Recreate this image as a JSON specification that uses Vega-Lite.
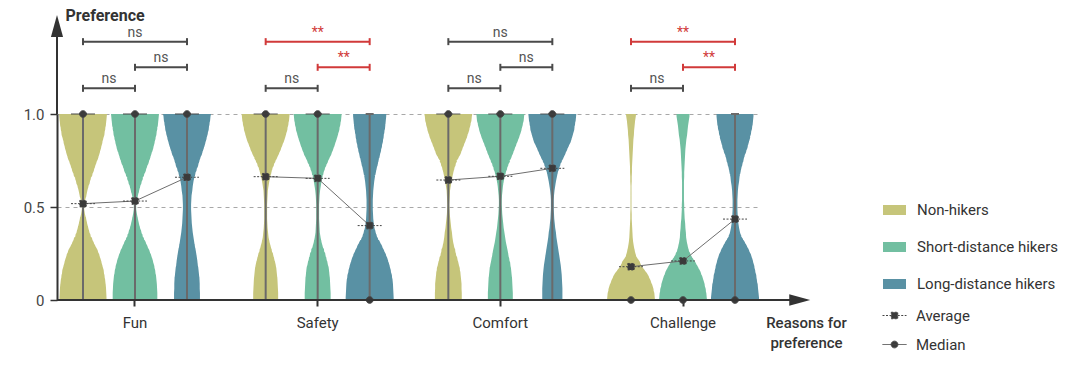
{
  "$schema": "https://vega.github.io/schema/vega-lite/v6.json",
  "width": 704,
  "height": 186,
  "autosize": "none",
  "padding": {"left": 57, "top": 114, "right": 319, "bottom": 74},
  "background": "white",
  "config": {
    "font": "Roboto",
    "view": {"stroke": null},
    "legend": {"padding": 0},
    "axisY": {
      "grid": true, "gridDash": [4, 4], "gridColor": "#a8a8a8", "gridWidth": 1,
      "domainColor": "#333", "domainWidth": 2,
      "tickColor": "#333", "tickWidth": 1.5, "tickSize": 7,
      "labelFontSize": 15, "labelColor": "#444", "labelPadding": 6,
      "titleAngle": 0, "titleAlign": "left", "titleBaseline": "middle",
      "titleX": 8, "titleY": -99, "titleFontSize": 16, "titleFontWeight": "bold", "titleColor": "#333"
    }
  },
  "datasets": {
    "violins": [
      {"reason": "Fun", "group": "Non-hikers", "level": [0,0.0125,0.0375,0.0625,0.0875,0.1125,0.1375,0.1625,0.1875,0.2125,0.2375,0.2625,0.2875,0.3125,0.3375,0.3625,0.3875,0.4125,0.4375,0.4625,0.4875,0.5125,0.5375,0.5625,0.5875,0.6125,0.6375,0.6625,0.6875,0.7125,0.7375,0.7625,0.7875,0.8125,0.8375,0.8625,0.8875,0.9125,0.9375,0.9625,0.9875,1],
       "d": [0.98,0.98,0.97,0.96,0.94,0.91,0.88,0.83,0.78,0.72,0.65,0.56,0.48,0.41,0.33,0.27,0.22,0.17,0.13,0.08,0.05,0.05,0.09,0.14,0.18,0.23,0.29,0.34,0.41,0.47,0.53,0.59,0.66,0.72,0.77,0.82,0.86,0.91,0.94,0.97,0.99,1.0]},
      {"reason": "Fun", "group": "Short-distance hikers", "level": [0,0.0125,0.0375,0.0625,0.0875,0.1125,0.1375,0.1625,0.1875,0.2125,0.2375,0.2625,0.2875,0.3125,0.3375,0.3625,0.3875,0.4125,0.4375,0.4625,0.4875,0.5125,0.5375,0.5625,0.5875,0.6125,0.6375,0.6625,0.6875,0.7125,0.7375,0.7625,0.7875,0.8125,0.8375,0.8625,0.8875,0.9125,0.9375,0.9625,0.9875,1],
       "d": [0.93,0.93,0.93,0.92,0.91,0.89,0.86,0.82,0.77,0.71,0.64,0.56,0.48,0.40,0.33,0.27,0.21,0.16,0.12,0.08,0.05,0.05,0.08,0.12,0.17,0.22,0.28,0.34,0.40,0.47,0.53,0.60,0.66,0.72,0.78,0.83,0.87,0.91,0.94,0.97,0.99,1.0]},
      {"reason": "Fun", "group": "Long-distance hikers", "level": [0,0.0125,0.0375,0.0625,0.0875,0.1125,0.1375,0.1625,0.1875,0.2125,0.2375,0.2625,0.2875,0.3125,0.3375,0.3625,0.3875,0.4125,0.4375,0.4625,0.4875,0.5125,0.5375,0.5625,0.5875,0.6125,0.6375,0.6625,0.6875,0.7125,0.7375,0.7625,0.7875,0.8125,0.8375,0.8625,0.8875,0.9125,0.9375,0.9625,0.9875,1],
       "d": [0.54,0.54,0.54,0.53,0.53,0.52,0.50,0.48,0.45,0.43,0.40,0.37,0.33,0.30,0.27,0.24,0.22,0.20,0.19,0.18,0.17,0.17,0.18,0.19,0.22,0.24,0.27,0.31,0.36,0.42,0.48,0.53,0.59,0.66,0.72,0.78,0.83,0.88,0.92,0.95,0.98,1.0]},
      {"reason": "Safety", "group": "Non-hikers", "level": [0,0.0125,0.0375,0.0625,0.0875,0.1125,0.1375,0.1625,0.1875,0.2125,0.2375,0.2625,0.2875,0.3125,0.3375,0.3625,0.3875,0.4125,0.4375,0.4625,0.4875,0.5125,0.5375,0.5625,0.5875,0.6125,0.6375,0.6625,0.6875,0.7125,0.7375,0.7625,0.7875,0.8125,0.8375,0.8625,0.8875,0.9125,0.9375,0.9625,0.9875,1],
       "d": [0.52,0.52,0.52,0.51,0.50,0.49,0.47,0.45,0.42,0.37,0.32,0.26,0.21,0.16,0.12,0.10,0.08,0.07,0.06,0.06,0.06,0.06,0.07,0.08,0.09,0.12,0.15,0.19,0.24,0.29,0.36,0.43,0.51,0.59,0.67,0.74,0.81,0.87,0.92,0.96,0.99,1.0]},
      {"reason": "Safety", "group": "Short-distance hikers", "level": [0,0.0125,0.0375,0.0625,0.0875,0.1125,0.1375,0.1625,0.1875,0.2125,0.2375,0.2625,0.2875,0.3125,0.3375,0.3625,0.3875,0.4125,0.4375,0.4625,0.4875,0.5125,0.5375,0.5625,0.5875,0.6125,0.6375,0.6625,0.6875,0.7125,0.7375,0.7625,0.7875,0.8125,0.8375,0.8625,0.8875,0.9125,0.9375,0.9625,0.9875,1],
       "d": [0.54,0.54,0.54,0.53,0.52,0.51,0.49,0.47,0.43,0.38,0.33,0.27,0.21,0.16,0.12,0.09,0.08,0.07,0.06,0.06,0.06,0.06,0.07,0.08,0.10,0.13,0.16,0.20,0.25,0.31,0.38,0.45,0.53,0.61,0.68,0.75,0.81,0.87,0.92,0.96,0.99,1.0]},
      {"reason": "Safety", "group": "Long-distance hikers", "level": [0,0.0125,0.0375,0.0625,0.0875,0.1125,0.1375,0.1625,0.1875,0.2125,0.2375,0.2625,0.2875,0.3125,0.3375,0.3625,0.3875,0.4125,0.4375,0.4625,0.4875,0.5125,0.5375,0.5625,0.5875,0.6125,0.6375,0.6625,0.6875,0.7125,0.7375,0.7625,0.7875,0.8125,0.8375,0.8625,0.8875,0.9125,0.9375,0.9625,0.9875,1],
       "d": [1.0,1.0,0.99,0.98,0.97,0.94,0.90,0.85,0.79,0.72,0.64,0.56,0.47,0.38,0.31,0.25,0.20,0.17,0.15,0.14,0.13,0.13,0.13,0.14,0.15,0.17,0.19,0.22,0.26,0.30,0.35,0.39,0.44,0.48,0.52,0.56,0.59,0.62,0.65,0.67,0.69,0.69]},
      {"reason": "Comfort", "group": "Non-hikers", "level": [0,0.0125,0.0375,0.0625,0.0875,0.1125,0.1375,0.1625,0.1875,0.2125,0.2375,0.2625,0.2875,0.3125,0.3375,0.3625,0.3875,0.4125,0.4375,0.4625,0.4875,0.5125,0.5375,0.5625,0.5875,0.6125,0.6375,0.6625,0.6875,0.7125,0.7375,0.7625,0.7875,0.8125,0.8375,0.8625,0.8875,0.9125,0.9375,0.9625,0.9875,1],
       "d": [0.56,0.56,0.56,0.55,0.55,0.53,0.51,0.48,0.44,0.39,0.33,0.29,0.24,0.20,0.17,0.15,0.12,0.10,0.08,0.06,0.05,0.04,0.05,0.06,0.07,0.10,0.13,0.17,0.21,0.26,0.32,0.38,0.46,0.55,0.62,0.69,0.76,0.83,0.89,0.94,0.98,1.0]},
      {"reason": "Comfort", "group": "Short-distance hikers", "level": [0,0.0125,0.0375,0.0625,0.0875,0.1125,0.1375,0.1625,0.1875,0.2125,0.2375,0.2625,0.2875,0.3125,0.3375,0.3625,0.3875,0.4125,0.4375,0.4625,0.4875,0.5125,0.5375,0.5625,0.5875,0.6125,0.6375,0.6625,0.6875,0.7125,0.7375,0.7625,0.7875,0.8125,0.8375,0.8625,0.8875,0.9125,0.9375,0.9625,0.9875,1],
       "d": [0.52,0.52,0.52,0.51,0.50,0.49,0.47,0.45,0.42,0.38,0.34,0.31,0.27,0.23,0.20,0.17,0.14,0.12,0.10,0.08,0.07,0.06,0.06,0.07,0.09,0.11,0.14,0.18,0.23,0.29,0.35,0.42,0.49,0.56,0.63,0.70,0.77,0.84,0.90,0.95,0.99,1.0]},
      {"reason": "Comfort", "group": "Long-distance hikers", "level": [0,0.0125,0.0375,0.0625,0.0875,0.1125,0.1375,0.1625,0.1875,0.2125,0.2375,0.2625,0.2875,0.3125,0.3375,0.3625,0.3875,0.4125,0.4375,0.4625,0.4875,0.5125,0.5375,0.5625,0.5875,0.6125,0.6375,0.6625,0.6875,0.7125,0.7375,0.7625,0.7875,0.8125,0.8375,0.8625,0.8875,0.9125,0.9375,0.9625,0.9875,1],
       "d": [0.42,0.42,0.42,0.42,0.41,0.40,0.39,0.37,0.35,0.32,0.29,0.26,0.23,0.20,0.17,0.15,0.12,0.10,0.08,0.07,0.06,0.06,0.06,0.07,0.09,0.12,0.15,0.19,0.23,0.29,0.35,0.42,0.50,0.58,0.66,0.74,0.82,0.88,0.93,0.96,0.99,1.0]},
      {"reason": "Challenge", "group": "Non-hikers", "level": [0,0.0125,0.0375,0.0625,0.0875,0.1125,0.1375,0.1625,0.1875,0.2125,0.2375,0.2625,0.2875,0.3125,0.3375,0.3625,0.3875,0.4125,0.4375,0.4625,0.4875,0.5125,0.5375,0.5625,0.5875,0.6125,0.6375,0.6625,0.6875,0.7125,0.7375,0.7625,0.7875,0.8125,0.8375,0.8625,0.8875,0.9125,0.9375,0.9625,0.9875,1],
       "d": [1.0,0.99,0.95,0.88,0.80,0.68,0.56,0.47,0.39,0.28,0.21,0.16,0.12,0.09,0.07,0.06,0.05,0.04,0.03,0.03,0.02,0.02,0.02,0.02,0.02,0.02,0.03,0.03,0.04,0.04,0.05,0.06,0.07,0.08,0.09,0.10,0.12,0.13,0.15,0.17,0.20,0.21]},
      {"reason": "Challenge", "group": "Short-distance hikers", "level": [0,0.0125,0.0375,0.0625,0.0875,0.1125,0.1375,0.1625,0.1875,0.2125,0.2375,0.2625,0.2875,0.3125,0.3375,0.3625,0.3875,0.4125,0.4375,0.4625,0.4875,0.5125,0.5375,0.5625,0.5875,0.6125,0.6375,0.6625,0.6875,0.7125,0.7375,0.7625,0.7875,0.8125,0.8375,0.8625,0.8875,0.9125,0.9375,0.9625,0.9875,1],
       "d": [1.0,0.99,0.96,0.92,0.86,0.79,0.70,0.60,0.50,0.40,0.32,0.25,0.20,0.16,0.13,0.12,0.10,0.09,0.07,0.06,0.05,0.05,0.04,0.04,0.04,0.04,0.04,0.05,0.05,0.06,0.07,0.08,0.09,0.10,0.12,0.14,0.17,0.19,0.21,0.24,0.27,0.27]},
      {"reason": "Challenge", "group": "Long-distance hikers", "level": [0,0.0125,0.0375,0.0625,0.0875,0.1125,0.1375,0.1625,0.1875,0.2125,0.2375,0.2625,0.2875,0.3125,0.3375,0.3625,0.3875,0.4125,0.4375,0.4625,0.4875,0.5125,0.5375,0.5625,0.5875,0.6125,0.6375,0.6625,0.6875,0.7125,0.7375,0.7625,0.7875,0.8125,0.8375,0.8625,0.8875,0.9125,0.9375,0.9625,0.9875,1],
       "d": [1.0,1.0,0.98,0.96,0.93,0.90,0.86,0.82,0.77,0.71,0.63,0.54,0.45,0.35,0.27,0.21,0.17,0.14,0.12,0.11,0.10,0.10,0.10,0.11,0.12,0.14,0.17,0.19,0.23,0.27,0.32,0.37,0.42,0.48,0.54,0.59,0.64,0.68,0.72,0.75,0.77,0.77]}
    ],
    "stats": [
      {"reason": "Fun", "group": "Non-hikers", "Average": 0.518, "Median": 1, "q1": 0, "q3": 1},
      {"reason": "Fun", "group": "Short-distance hikers", "Average": 0.532, "Median": 1, "q1": 0, "q3": 1},
      {"reason": "Fun", "group": "Long-distance hikers", "Average": 0.66, "Median": 1, "q1": 0, "q3": 1},
      {"reason": "Safety", "group": "Non-hikers", "Average": 0.663, "Median": 1, "q1": 0, "q3": 1},
      {"reason": "Safety", "group": "Short-distance hikers", "Average": 0.654, "Median": 1, "q1": 0, "q3": 1},
      {"reason": "Safety", "group": "Long-distance hikers", "Average": 0.40, "Median": 0, "q1": 0, "q3": 1},
      {"reason": "Comfort", "group": "Non-hikers", "Average": 0.645, "Median": 1, "q1": 0, "q3": 1},
      {"reason": "Comfort", "group": "Short-distance hikers", "Average": 0.665, "Median": 1, "q1": 0, "q3": 1},
      {"reason": "Comfort", "group": "Long-distance hikers", "Average": 0.708, "Median": 1, "q1": 0, "q3": 1},
      {"reason": "Challenge", "group": "Non-hikers", "Average": 0.179, "Median": 0, "q1": 0, "q3": 0},
      {"reason": "Challenge", "group": "Short-distance hikers", "Average": 0.21, "Median": 0, "q1": 0, "q3": 0},
      {"reason": "Challenge", "group": "Long-distance hikers", "Average": 0.435, "Median": 0, "q1": 0, "q3": 1}
    ],
    "brackets": [
      {"reason": "Fun", "pair": "top", "a": "Non-hikers", "b": "Long-distance hikers", "mid": "Short-distance hikers", "label": "ns"},
      {"reason": "Fun", "pair": "middle", "a": "Short-distance hikers", "b": "Long-distance hikers", "mid": "SD–LD", "label": "ns"},
      {"reason": "Fun", "pair": "low", "a": "Non-hikers", "b": "Short-distance hikers", "mid": "NH–SD", "label": "ns"},
      {"reason": "Safety", "pair": "top", "a": "Non-hikers", "b": "Long-distance hikers", "mid": "Short-distance hikers", "label": "**"},
      {"reason": "Safety", "pair": "middle", "a": "Short-distance hikers", "b": "Long-distance hikers", "mid": "SD–LD", "label": "**"},
      {"reason": "Safety", "pair": "low", "a": "Non-hikers", "b": "Short-distance hikers", "mid": "NH–SD", "label": "ns"},
      {"reason": "Comfort", "pair": "top", "a": "Non-hikers", "b": "Long-distance hikers", "mid": "Short-distance hikers", "label": "ns"},
      {"reason": "Comfort", "pair": "middle", "a": "Short-distance hikers", "b": "Long-distance hikers", "mid": "SD–LD", "label": "ns"},
      {"reason": "Comfort", "pair": "low", "a": "Non-hikers", "b": "Short-distance hikers", "mid": "NH–SD", "label": "ns"},
      {"reason": "Challenge", "pair": "top", "a": "Non-hikers", "b": "Long-distance hikers", "mid": "Short-distance hikers", "label": "**"},
      {"reason": "Challenge", "pair": "middle", "a": "Short-distance hikers", "b": "Long-distance hikers", "mid": "SD–LD", "label": "**"},
      {"reason": "Challenge", "pair": "low", "a": "Non-hikers", "b": "Short-distance hikers", "mid": "NH–SD", "label": "ns"}
    ]
  },
  "layer": [
    {
      "encoding": {
        "x": {
          "field": "reason", "type": "nominal",
          "scale": {"domain": ["Fun", "Safety", "Comfort", "Challenge"], "paddingInner": 0.146, "paddingOuter": 0},
          "axis": {
            "domain": false, "ticks": true, "tickSize": 6, "tickWidth": 2, "tickColor": "#333",
            "labelFontSize": 15, "labelColor": "#333", "labelPadding": 9, "labelAngle": 0,
            "title": ["Reasons for", "preference"], "titleX": 749, "titleY": 15,
            "titleAlign": "center", "titleBaseline": "top", "titleFontSize": 15,
            "titleFontWeight": 500, "titleColor": "#333", "titleLineHeight": 20
          }
        }
      },
      "layer": [
        {
          "data": {"name": "violins"},
          "transform": [{"flatten": ["level", "d"]}],
          "mark": {"type": "trail", "clip": true, "opacity": 1},
          "encoding": {
            "xOffset": {"field": "group", "type": "nominal", "scale": {"domain": ["Non-hikers", "NH–SD", "Short-distance hikers", "SD–LD", "Long-distance hikers"], "paddingInner": 0, "paddingOuter": 0.5}},
            "y": {
              "field": "level", "type": "quantitative", "title": "Preference",
              "scale": {"domain": [0, 1], "nice": false, "zero": true},
              "axis": {
                "title": "Preference",
                "values": [0, 0.5, 1],
                "labelExpr": "datum.value == 0 ? '0' : format(datum.value, '.1f')"
              }
            },
            "size": {"field": "d", "type": "quantitative", "scale": {"domain": [0, 1], "range": [0, 48], "zero": true}, "legend": null},
            "color": {
              "field": "group", "type": "nominal",
              "scale": {"domain": ["Non-hikers", "Short-distance hikers", "Long-distance hikers"], "range": ["#c6c57a", "#72bfa1", "#5991a4"]},
              "legend": {
                "orient": "none", "legendX": 821, "legendY": 79.5, "title": null,
                "symbolType": "stroke", "symbolSize": 529, "symbolStrokeWidth": 10, "symbolOpacity": 1,
                "labelFontSize": 15, "labelColor": "#333", "labelOffset": 6, "rowPadding": -11
              }
            },
            "detail": {"field": "reason"},
            "order": {"field": "level"}
          }
        },
        {
          "data": {"name": "stats"},
          "mark": {"type": "rule", "color": "#6a6a6a", "strokeWidth": 2},
          "encoding": {
            "xOffset": {"field": "group", "type": "nominal", "scale": {"domain": ["Non-hikers", "NH–SD", "Short-distance hikers", "SD–LD", "Long-distance hikers"], "paddingInner": 0, "paddingOuter": 0.5}},
            "y": {"field": "q1", "type": "quantitative", "title": "Preference"},
            "y2": {"field": "q3"}
          }
        },
        {
          "data": {"name": "stats"},
          "transform": [{"filter": "datum.q3 > datum.q1"}, {"fold": ["q1", "q3"], "as": ["qk", "qv"]}],
          "mark": {"type": "tick", "color": "#6a6a6a", "size": 8, "thickness": 2, "opacity": 1},
          "encoding": {
            "xOffset": {"field": "group", "type": "nominal", "scale": {"domain": ["Non-hikers", "NH–SD", "Short-distance hikers", "SD–LD", "Long-distance hikers"], "paddingInner": 0, "paddingOuter": 0.5}},
            "y": {"field": "qv", "type": "quantitative", "title": "Preference"}
          }
        },
        {
          "data": {"name": "stats"},
          "mark": {"type": "line", "color": "#6e6e6e", "strokeWidth": 1},
          "encoding": {
            "xOffset": {"field": "group", "type": "nominal", "scale": {"domain": ["Non-hikers", "NH–SD", "Short-distance hikers", "SD–LD", "Long-distance hikers"], "paddingInner": 0, "paddingOuter": 0.5}},
            "y": {"field": "Average", "type": "quantitative", "title": "Preference"},
            "detail": {"field": "reason"},
            "order": {"field": "Average"}
          }
        },
        {
          "data": {"name": "stats"},
          "transform": [{"fold": ["Average", "Median"], "as": ["stat", "val"]}],
          "mark": {"type": "point", "filled": false, "size": 576, "fill": "#3a3a3a", "stroke": "#444", "color": "#444", "strokeWidth": 1, "opacity": 1, "fillOpacity": 1, "strokeOpacity": 1},
          "encoding": {
            "xOffset": {"field": "group", "type": "nominal", "scale": {"domain": ["Non-hikers", "NH–SD", "Short-distance hikers", "SD–LD", "Long-distance hikers"], "paddingInner": 0, "paddingOuter": 0.5}},
            "y": {"field": "val", "type": "quantitative", "title": "Preference"},
            "shape": {
              "field": "stat", "type": "nominal",
              "scale": {"domain": ["Average", "Median"], "range": ["M-1,0H-0.27M0.27,0H1M-0.27,-0.27H0.27V0.27H-0.27Z", "M-1,0H1M0.28,0A0.28,0.28,0,1,1,-0.28,0A0.28,0.28,0,1,1,0.28,0Z"]},
              "legend": {
                "orient": "none", "legendX": 825, "legendY": 189, "title": null,
                "symbolSize": 576, "symbolStrokeWidth": 1, "symbolOpacity": 1,
                "labelFontSize": 15, "labelColor": "#333", "labelOffset": 9, "rowPadding": 8
              }
            },
            "strokeDash": {
              "field": "stat", "type": "nominal",
              "scale": {"domain": ["Average", "Median"], "range": [[2, 1.5], [1, 0]]},
              "legend": {
                "orient": "none", "legendX": 825, "legendY": 189, "title": null,
                "symbolSize": 576, "symbolStrokeWidth": 1, "symbolOpacity": 1,
                "labelFontSize": 15, "labelColor": "#333", "labelOffset": 9, "rowPadding": 8
              }
            }
          }
        },
        {
          "data": {"name": "brackets"},
          "transform": [{"filter": "datum.pair == 'top'"}],
          "encoding": {"y": {"datum": 1.389, "type": "quantitative", "title": "Preference"}},
          "layer": [
            {
              "transform": [{"fold": ["a", "b"], "as": ["end", "grp"]}],
              "mark": {"type": "line", "strokeWidth": 2},
              "encoding": {
                "xOffset": {"field": "grp", "type": "nominal", "scale": {"domain": ["Non-hikers", "NH–SD", "Short-distance hikers", "SD–LD", "Long-distance hikers"], "paddingInner": 0, "paddingOuter": 0.5}},
                "detail": {"field": "reason"},
                "color": {"condition": {"test": "datum.label == '**'", "value": "#d13a3a"}, "value": "#4a4a4a"}
              }
            },
            {
              "transform": [{"fold": ["a", "b"], "as": ["end", "grp"]}],
              "mark": {"type": "point", "shape": "M0,-1L0,1", "size": 49, "strokeWidth": 2, "filled": false, "opacity": 1},
              "encoding": {
                "xOffset": {"field": "grp", "type": "nominal", "scale": {"domain": ["Non-hikers", "NH–SD", "Short-distance hikers", "SD–LD", "Long-distance hikers"], "paddingInner": 0, "paddingOuter": 0.5}},
                "color": {"condition": {"test": "datum.label == '**'", "value": "#d13a3a"}, "value": "#4a4a4a"}
              }
            },
            {
              "mark": {"type": "text", "baseline": "alphabetic", "dy": -5, "fontSize": 14},
              "encoding": {
                "xOffset": {"field": "mid", "type": "nominal", "scale": {"domain": ["Non-hikers", "NH–SD", "Short-distance hikers", "SD–LD", "Long-distance hikers"], "paddingInner": 0, "paddingOuter": 0.5}},
                "text": {"field": "label"},
                "color": {"condition": {"test": "datum.label == '**'", "value": "#d13a3a"}, "value": "#555"}
              }
            }
          ]
        },
        {
          "data": {"name": "brackets"},
          "transform": [{"filter": "datum.pair == 'middle'"}],
          "encoding": {"y": {"datum": 1.251, "type": "quantitative", "title": "Preference"}},
          "layer": [
            {
              "transform": [{"fold": ["a", "b"], "as": ["end", "grp"]}],
              "mark": {"type": "line", "strokeWidth": 2},
              "encoding": {
                "xOffset": {"field": "grp", "type": "nominal", "scale": {"domain": ["Non-hikers", "NH–SD", "Short-distance hikers", "SD–LD", "Long-distance hikers"], "paddingInner": 0, "paddingOuter": 0.5}},
                "detail": {"field": "reason"},
                "color": {"condition": {"test": "datum.label == '**'", "value": "#d13a3a"}, "value": "#4a4a4a"}
              }
            },
            {
              "transform": [{"fold": ["a", "b"], "as": ["end", "grp"]}],
              "mark": {"type": "point", "shape": "M0,-1L0,1", "size": 49, "strokeWidth": 2, "filled": false, "opacity": 1},
              "encoding": {
                "xOffset": {"field": "grp", "type": "nominal", "scale": {"domain": ["Non-hikers", "NH–SD", "Short-distance hikers", "SD–LD", "Long-distance hikers"], "paddingInner": 0, "paddingOuter": 0.5}},
                "color": {"condition": {"test": "datum.label == '**'", "value": "#d13a3a"}, "value": "#4a4a4a"}
              }
            },
            {
              "mark": {"type": "text", "baseline": "alphabetic", "dy": -5, "fontSize": 14},
              "encoding": {
                "xOffset": {"field": "mid", "type": "nominal", "scale": {"domain": ["Non-hikers", "NH–SD", "Short-distance hikers", "SD–LD", "Long-distance hikers"], "paddingInner": 0, "paddingOuter": 0.5}},
                "text": {"field": "label"},
                "color": {"condition": {"test": "datum.label == '**'", "value": "#d13a3a"}, "value": "#555"}
              }
            }
          ]
        },
        {
          "data": {"name": "brackets"},
          "transform": [{"filter": "datum.pair == 'low'"}],
          "encoding": {"y": {"datum": 1.138, "type": "quantitative", "title": "Preference"}},
          "layer": [
            {
              "transform": [{"fold": ["a", "b"], "as": ["end", "grp"]}],
              "mark": {"type": "line", "strokeWidth": 2},
              "encoding": {
                "xOffset": {"field": "grp", "type": "nominal", "scale": {"domain": ["Non-hikers", "NH–SD", "Short-distance hikers", "SD–LD", "Long-distance hikers"], "paddingInner": 0, "paddingOuter": 0.5}},
                "detail": {"field": "reason"},
                "color": {"condition": {"test": "datum.label == '**'", "value": "#d13a3a"}, "value": "#4a4a4a"}
              }
            },
            {
              "transform": [{"fold": ["a", "b"], "as": ["end", "grp"]}],
              "mark": {"type": "point", "shape": "M0,-1L0,1", "size": 49, "strokeWidth": 2, "filled": false, "opacity": 1},
              "encoding": {
                "xOffset": {"field": "grp", "type": "nominal", "scale": {"domain": ["Non-hikers", "NH–SD", "Short-distance hikers", "SD–LD", "Long-distance hikers"], "paddingInner": 0, "paddingOuter": 0.5}},
                "color": {"condition": {"test": "datum.label == '**'", "value": "#d13a3a"}, "value": "#4a4a4a"}
              }
            },
            {
              "mark": {"type": "text", "baseline": "alphabetic", "dy": -5, "fontSize": 14},
              "encoding": {
                "xOffset": {"field": "mid", "type": "nominal", "scale": {"domain": ["Non-hikers", "NH–SD", "Short-distance hikers", "SD–LD", "Long-distance hikers"], "paddingInner": 0, "paddingOuter": 0.5}},
                "text": {"field": "label"},
                "color": {"condition": {"test": "datum.label == '**'", "value": "#d13a3a"}, "value": "#555"}
              }
            }
          ]
        }
      ]
    },
    {
      "data": {"values": [{}]},
      "layer": [
        {
          "mark": {"type": "rule", "color": "#333", "strokeWidth": 2},
          "encoding": {
            "x": {"datum": 0, "type": "quantitative", "scale": {"domain": [0, 1]}, "axis": null},
            "x2": {"datum": 1.05},
            "y": {"datum": 0, "type": "quantitative", "title": "Preference"}
          }
        },
        {
          "mark": {"type": "rule", "color": "#333", "strokeWidth": 2},
          "encoding": {
            "x": {"datum": 0, "type": "quantitative", "scale": {"domain": [0, 1]}, "axis": null},
            "y": {"datum": 1, "type": "quantitative", "title": "Preference"},
            "y2": {"datum": 1.45}
          }
        },
        {
          "mark": {"type": "point", "shape": "M-1,-0.55L1,0L-1,0.55Z", "size": 441, "filled": true, "color": "#333", "opacity": 1},
          "encoding": {
            "x": {"datum": 1.055, "type": "quantitative", "scale": {"domain": [0, 1]}, "axis": null},
            "y": {"datum": 0, "type": "quantitative", "title": "Preference"}
          }
        },
        {
          "mark": {"type": "point", "shape": "M-0.55,1L0,-1L0.55,1Z", "size": 484, "filled": true, "color": "#333", "opacity": 1},
          "encoding": {
            "x": {"datum": 0, "type": "quantitative", "scale": {"domain": [0, 1]}, "axis": null},
            "y": {"datum": 1.473, "type": "quantitative", "title": "Preference"}
          }
        }
      ]
    }
  ],
  "resolve": {"scale": {"x": "independent"}}
}
